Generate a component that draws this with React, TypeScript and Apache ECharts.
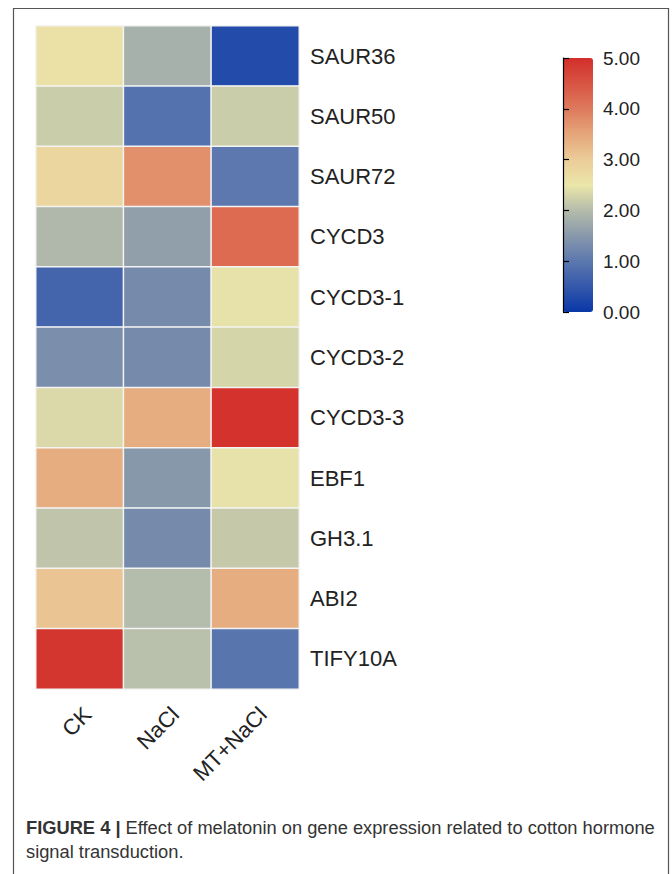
import React, { useEffect, useRef } from "react";
import * as echarts from "echarts";

const genes = ["SAUR36", "SAUR50", "SAUR72", "CYCD3", "CYCD3-1", "CYCD3-2", "CYCD3-3", "EBF1", "GH3.1", "ABI2", "TIFY10A"];
const treatments = ["CK", "NaCl", "MT+NaCl"];
const valuesCK = [2.6, 2.2, 2.8, 1.95, 0.7, 1.35, 2.35, 3.4, 2.1, 3.1, 4.9];
const valuesNaCl = [1.85, 0.9, 3.75, 1.6, 1.3, 1.3, 3.4, 1.5, 1.3, 2.0, 2.05];
const valuesMT = [0.3, 2.2, 1.0, 4.2, 2.45, 2.3, 4.95, 2.45, 2.15, 3.4, 0.95];
const scaleTicks = [0, 1, 2, 3, 4, 5];
const gradient = ["#0a37a8", "#3458ab", "#5c78ae", "#8898ab", "#b4bcab", "#ebe6a9", "#ebcc98", "#e5a67a", "#de7a5c", "#d85444", "#d22e2a"];

export default function App() {
  const ref = useRef<HTMLDivElement>(null);
  useEffect(() => {
    if (!ref.current) return;
    const chart = echarts.init(ref.current, undefined, { renderer: "svg" });
    const cols = [valuesCK, valuesNaCl, valuesMT];
    const data: number[][] = [];
    cols.forEach((col, xi) => col.forEach((v, yi) => data.push([xi, yi, v])));
    const font = "'Liberation Sans', Arial, sans-serif";
    chart.setOption({
      animation: false,
      backgroundColor: "#ffffff",
      grid: [
        { left: 36, top: 26, width: 263, height: 663 },
        { left: 563, top: 58, width: 31, height: 254 },
      ],
      xAxis: [
        {
          type: "category",
          data: treatments,
          gridIndex: 0,
          position: "bottom",
          axisLine: { show: false },
          axisTick: { show: false },
          splitLine: { show: false },
          axisLabel: { rotate: 45, fontSize: 22, color: "#222", fontFamily: font, margin: 14, verticalAlign: "top" },
        },
        { type: "value", gridIndex: 1, show: false, min: 0, max: 1 },
      ],
      yAxis: [
        {
          type: "category",
          data: genes,
          inverse: true,
          gridIndex: 0,
          position: "right",
          axisLine: { show: false },
          axisTick: { show: false },
          splitLine: { show: false },
          axisLabel: { fontSize: 22, color: "#222", fontFamily: font, margin: 11 },
        },
        {
          type: "value",
          gridIndex: 1,
          position: "right",
          z: 10,
          min: scaleTicks[0],
          max: scaleTicks[scaleTicks.length - 1],
          interval: 1,
          axisLine: { show: true, lineStyle: { color: "#000", width: 1.2 } },
          axisTick: { show: true, length: 6, inside: false, lineStyle: { color: "#000", width: 1.2 } },
          splitLine: { show: false },
          axisLabel: { fontSize: 19, color: "#222", fontFamily: font, margin: 9, formatter: (v: number) => v.toFixed(2) },
        },
      ],
      visualMap: {
        type: "continuous",
        min: 0,
        max: 5,
        seriesIndex: 0,
        left: 563,
        top: 58,
        padding: 0,
        itemWidth: 30,
        itemHeight: 254,
        calculable: false,
        hoverLink: false,
        z: 2,
        inRange: { color: gradient },
      },
      series: [
        {
          type: "heatmap",
          xAxisIndex: 0,
          yAxisIndex: 0,
          data,
          itemStyle: { borderColor: "#f4f4f4", borderWidth: 1.5 },
        },
      ],
      graphic: [
        {
          type: "rect",
          shape: { x: 13.5, y: 8.5, width: 655, height: 900 },
          style: { fill: "none", stroke: "#555", lineWidth: 1.2 },
          silent: true,
        },
        {
          type: "text",
          left: 26,
          top: 815,
          style: {
            text: "{b|FIGURE 4 |} Effect of melatonin on gene expression related to cotton hormone\nsignal transduction.",
            fill: "#333",
            font: `18.3px ${font}`,
            lineHeight: 24,
            rich: { b: { fontWeight: "bold", fontSize: 18.3, fill: "#333", fontFamily: font } },
          },
        },
      ],
    });
    return () => chart.dispose();
  }, []);
  return <div ref={ref} style={{ position: "absolute", left: 0, top: 0, width: 672, height: 874 }} />;
}
